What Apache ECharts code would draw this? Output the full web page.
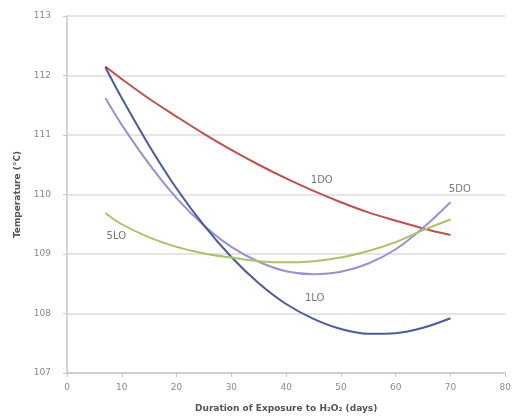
<!DOCTYPE html>
<html>
<head>
<meta charset="utf-8">
<script src="https://cdn.jsdelivr.net/npm/echarts@6/dist/echarts.min.js"></script>
<style>
  html, body { margin: 0; padding: 0; background: #fff; }
  #chart { width: 514px; height: 420px; }
</style>
</head>
<body>
<div id="chart"></div>
<script>
// days of exposure
var days = [7, 10, 15, 20, 25, 30, 35, 40, 45, 50, 55, 60, 65, 70];

// temperature readings (°C)
var temp1DO = [112.15, 111.94, 111.61, 111.31, 111.02, 110.75, 110.50, 110.27, 110.06, 109.87, 109.70, 109.56, 109.43, 109.32];
var temp5DO = [111.62, 111.17, 110.51, 109.94, 109.48, 109.12, 108.87, 108.71, 108.66, 108.70, 108.84, 109.08, 109.44, 109.87];
var temp1LO = [112.14, 111.62, 110.82, 110.10, 109.48, 108.95, 108.51, 108.16, 107.91, 107.74, 107.66, 107.67, 107.76, 107.92];
var temp5LO = [109.69, 109.50, 109.28, 109.12, 109.01, 108.94, 108.88, 108.86, 108.88, 108.94, 109.05, 109.20, 109.40, 109.58];

// series names and where their text sits
var names = ['1DO', '5DO', '1LO', '5LO'];
var labelAt = [[46.5, 110.24], [71.7, 110.09], [45.2, 108.26], [9.0, 109.29]];
var colors = ['#c0504d', '#9d90cf', '#4b5a9c', '#a8c46a'];

function pairs(ys) {
    return days.map(function (d, i) { return [d, ys[i]]; });
}

var allTemps = [temp1DO, temp5DO, temp1LO, temp5LO];

var series = allTemps.map(function (ys, i) {
    return {
        name: names[i],
        type: 'line',
        smooth: 0.35,
        showSymbol: false,
        data: pairs(ys),
        lineStyle: { color: colors[i], width: 2 },
        markPoint: {
            symbol: 'circle',
            symbolSize: 0,
            data: [{ coord: labelAt[i] }],
            label: {
                show: true,
                formatter: names[i],
                color: '#777',
                fontSize: 10,
                fontFamily: 'DejaVu Sans'
            }
        }
    };
});

var chart = echarts.init(document.getElementById('chart'));
chart.setOption({
    animation: false,
    backgroundColor: '#fff',
    grid: { left: 67, right: 3, top: 16, bottom: 47 },
    xAxis: {
        type: 'value',
        min: 0,
        max: 80,
        interval: 10,
        name: 'Duration of Exposure to H\u2082O\u2082 (days)',
        nameLocation: 'middle',
        nameGap: 31,
        nameTextStyle: { color: '#555', fontSize: 9, fontWeight: 'bold', fontFamily: 'DejaVu Sans' },
        axisLine: { lineStyle: { color: '#c8c8c8', width: 1.5 } },
        axisTick: { show: true, length: 4, lineStyle: { color: '#c8c8c8' } },
        axisLabel: { color: '#8a8a8a', fontSize: 9, margin: 10, fontFamily: 'DejaVu Sans' },
        splitLine: { show: false }
    },
    yAxis: {
        type: 'value',
        min: 107,
        max: 113,
        interval: 1,
        name: 'Temperature (\u00b0C)',
        nameLocation: 'middle',
        nameGap: 45,
        nameTextStyle: { color: '#555', fontSize: 9, fontWeight: 'bold', fontFamily: 'DejaVu Sans' },
        axisLine: { show: true, lineStyle: { color: '#c8c8c8', width: 1.5 } },
        axisTick: { show: true, length: 4, lineStyle: { color: '#c8c8c8' } },
        axisLabel: { color: '#8a8a8a', fontSize: 9, margin: 16, fontFamily: 'DejaVu Sans' },
        splitLine: { lineStyle: { color: '#dcdcdc', width: 1.5 } }
    },
    series: series
});
</script>
</body>
</html>
